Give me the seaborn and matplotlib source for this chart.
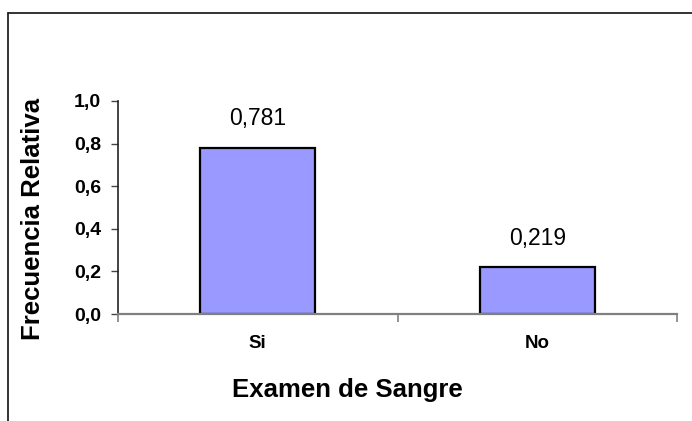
import numpy as np
import pandas as pd
import matplotlib
matplotlib.use("Agg")
import matplotlib.pyplot as plt
from matplotlib.lines import Line2D
from matplotlib.ticker import FixedLocator, FuncFormatter
import seaborn as sns

# --- DATA ---
categories = ["Si", "No"]
frecuencia = [0.781, 0.219]
y_ticks = [0.0, 0.2, 0.4, 0.6, 0.8, 1.0]

df = pd.DataFrame({"Examen": categories, "Frecuencia": frecuencia})

# --- STYLE ---
sns.set_theme(style="white")
plt.rcParams['font.family'] = ['Liberation Sans', 'DejaVu Sans']
plt.rcParams['text.color'] = 'black'
plt.rcParams['axes.labelcolor'] = 'black'

W, H = 692, 421
fig = plt.figure(figsize=(W / 100, H / 100), dpi=100)
ax = fig.add_axes([118 / W, 1 - 314 / H, (677 - 118) / W, (314 - 101) / H])

sns.barplot(data=df, x="Examen", y="Frecuencia", ax=ax, color="#9999FF",
            saturation=1, width=0.41, edgecolor="black", linewidth=1.6)

# --- AXES ---
ax.set_xlim(-0.5, 1.5)
ax.set_ylim(0, 1.0)
ax.yaxis.set_major_locator(FixedLocator(y_ticks))
ax.yaxis.set_major_formatter(FuncFormatter(lambda v, p: f"{v:.1f}".replace('.', ',')))
ax.xaxis.set_minor_locator(FixedLocator([-0.5, 0.5, 1.5]))

for s in ["top", "right"]:
    ax.spines[s].set_visible(False)
ax.spines["left"].set_color("#222222")
ax.spines["left"].set_linewidth(1.2)
ax.spines["bottom"].set_color("#808080")
ax.spines["bottom"].set_linewidth(1.6)

ax.tick_params(axis="y", direction="out", length=5, width=1, color="#444444",
               pad=7, labelsize=14, labelcolor="black", left=True)
ax.tick_params(axis="x", which="major", length=0, pad=15, labelsize=13.5,
               labelcolor="black")
ax.tick_params(axis="x", which="minor", direction="out", length=6, width=1.2,
               color="#808080", bottom=True)
for lab in ax.get_xticklabels() + ax.get_yticklabels():
    lab.set_fontweight("bold")

ax.set_xlabel("Examen de Sangre", fontsize=18.5, fontweight="bold")
ax.set_ylabel("Frecuencia Relativa", fontsize=18.5, fontweight="bold")
ax.xaxis.set_label_coords(0.411, -0.357)
ax.xaxis.label.set_va("center")
ax.yaxis.set_label_coords(-0.152, 0.446)
ax.yaxis.label.set_va("center")

# --- BAR LABELS ---
for bar, v in zip(ax.patches, frecuencia):
    ax.annotate(f"{v:.3f}".replace('.', ','),
                (bar.get_x() + bar.get_width() / 2, bar.get_height()),
                xytext=(0, 21), textcoords="offset points",
                ha="center", va="center", fontsize=16.5, color="black")

# --- OUTER FRAME ---
fig.add_artist(Line2D([8 / W, 1.0], [1 - 13 / H, 1 - 13 / H], color="#222222", lw=1.3))
fig.add_artist(Line2D([8 / W, 8 / W], [0.0, 1 - 13 / H], color="#222222", lw=1.3))

fig.savefig("out.png", dpi=100)
